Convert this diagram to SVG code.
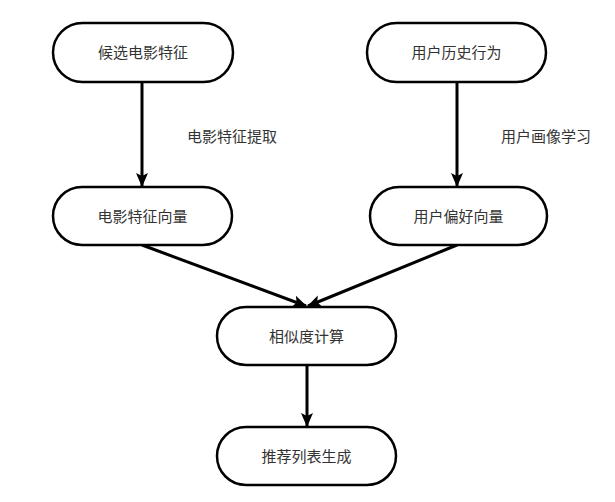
<svg xmlns="http://www.w3.org/2000/svg" width="615" height="502" viewBox="0 0 615 502">
<style>
.node rect{fill:#fff;stroke:#000;stroke-width:2.5}
text{font-family:"Liberation Sans","Noto Sans CJK SC",sans-serif;font-size:15px;fill:#333;text-anchor:middle;dominant-baseline:central}
.edge{stroke:#000;stroke-width:3;fill:none}
</style>
<defs>
<marker id="ah" markerUnits="userSpaceOnUse" markerWidth="14" markerHeight="14" viewBox="0 0 14 14" refX="13" refY="7" orient="auto">
<path d="M0,1 L14,7 L0,13 L3,7 Z" fill="#000"/>
</marker>
</defs>
<rect width="615" height="502" fill="#fff"/>
<g id="edges">
<line class="edge" x1="142" y1="82" x2="142" y2="186" marker-end="url(#ah)"/>
<line class="edge" x1="457" y1="82" x2="457" y2="186" marker-end="url(#ah)"/>
<line class="edge" x1="142" y1="245" x2="306" y2="306" marker-end="url(#ah)"/>
<line class="edge" x1="457" y1="245" x2="308" y2="306" marker-end="url(#ah)"/>
<line class="edge" x1="307" y1="365" x2="307" y2="426" marker-end="url(#ah)"/>
<text x="232" y="136">电影特征提取</text>
<text x="546" y="136">用户画像学习</text>
</g>
<g id="n1" class="node"><rect x="53" y="23" width="180" height="59" rx="29.5"/><text x="143" y="52.5">候选电影特征</text></g>
<g id="n2" class="node"><rect x="367" y="23" width="179" height="59" rx="29.5"/><text x="456.5" y="52.5">用户历史行为</text></g>
<g id="n3" class="node"><rect x="53" y="187" width="179" height="58" rx="29"/><text x="142.5" y="216">电影特征向量</text></g>
<g id="n4" class="node"><rect x="370" y="187" width="177" height="58" rx="29"/><text x="458.5" y="216">用户偏好向量</text></g>
<g id="n5" class="node"><rect x="217" y="307" width="179" height="58" rx="29"/><text x="306.5" y="336">相似度计算</text></g>
<g id="n6" class="node"><rect x="217" y="427" width="179" height="58" rx="29"/><text x="306.5" y="456">推荐列表生成</text></g>
</svg>
